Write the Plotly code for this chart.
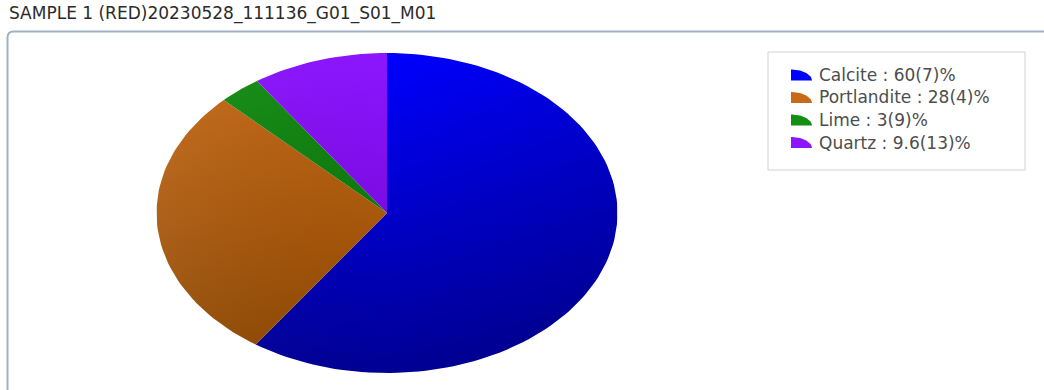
import numpy as np
import plotly.graph_objects as go

# ---- data ----
phases = ["Calcite", "Portlandite", "Lime", "Quartz"]
values = [60, 28, 3, 9.6]
uncert = ["7", "4", "9", "13"]
colors_top = ["#0000ff", "#c86a18", "#139013", "#8c16ff"]
colors_bottom = ["#000094", "#8a4600", "#0a600a", "#6a00c8"]
title_text = "SAMPLE 1 (RED)20230528_111136_G01_S01_M01"

W, H = 1044, 390
FONT = "DejaVu Sans"

fig = go.Figure()

# ---- pie drawn on a stretched cartesian frame (ellipse) ----
total = float(sum(values))
start = 0.0
for name, v, ct, cb in zip(phases, values, colors_top, colors_bottom):
    a0 = start / total * 2 * np.pi
    a1 = (start + v) / total * 2 * np.pi
    t = np.linspace(a0, a1, max(3, int(200 * v / total) + 3))
    xs = np.concatenate([[0.0], np.sin(t), [0.0]])
    ys = np.concatenate([[0.0], np.cos(t), [0.0]])
    fig.add_trace(go.Scatter(
        x=xs, y=ys, mode="lines", fill="toself",
        line=dict(width=0, color=ct),
        fillgradient=dict(type="vertical", start=-1, stop=1,
                          colorscale=[[0, cb], [1, ct]]),
        hoverinfo="text", text=f"{name}", name=name,
        xaxis="x", yaxis="y", showlegend=False,
    ))
    start += v

# subtle diagonal shading: horizontal darkening overlay
tt = np.linspace(0, 2 * np.pi, 300)
fig.add_trace(go.Scatter(
    x=np.sin(tt), y=np.cos(tt), mode="lines", fill="toself",
    line=dict(width=0, color="rgba(0,0,0,0)"),
    fillgradient=dict(type="horizontal", start=-1, stop=1,
                      colorscale=[[0, "rgba(255,255,255,0.06)"], [0.5, "rgba(0,0,0,0)"], [1, "rgba(0,0,0,0.12)"]]),
    hoverinfo="skip", xaxis="x", yaxis="y", showlegend=False,
))

# ---- custom legend (quarter-wedge icons) ----
LX0, LX1, LY0, LY1 = 768, 1025, 52, 170
row_y = [75, 97.5, 120, 142.5]
icon_x, icon_rx, icon_ry = 791, 21, 11
q = np.linspace(0, np.pi / 2, 30)
for i, (name, v, err, ct) in enumerate(zip(phases, values, uncert, colors_top)):
    yb = row_y[i] + icon_ry / 2
    xs = np.concatenate([[icon_x], icon_x + icon_rx * np.sin(q), [icon_x]])
    ys = np.concatenate([[yb], yb - icon_ry * np.cos(q), [yb]])
    fig.add_trace(go.Scatter(
        x=xs, y=ys, mode="lines", fill="toself", fillcolor=ct,
        line=dict(width=0, color=ct), hoverinfo="skip",
        xaxis="x2", yaxis="y2", showlegend=False,
    ))
    fig.add_annotation(
        x=817, y=row_y[i], xref="x2", yref="y2", text=f"{name} : {v:g}({err})%",
        showarrow=False, xanchor="left", yanchor="middle",
        font=dict(family=FONT, size=17, color="#4d4d4d"),
    )

fig.add_shape(type="rect", xref="paper", yref="paper",
              x0=LX0 / W, x1=LX1 / W, y0=1 - LY1 / H, y1=1 - LY0 / H,
              line=dict(color="#d2d2d2", width=1), fillcolor="rgba(0,0,0,0)", layer="below")

# ---- outer panel border with rounded corner ----
def px(x):
    return x / W

def py(y):
    return 1 - y / H

bx, by, r = 7.5, 31.5, 6
path = (f"M {px(bx)} {py(H + 20)} L {px(bx)} {py(by + r)} "
        f"Q {px(bx)} {py(by)} {px(bx + r)} {py(by)} L {px(W + 20)} {py(by)}")
fig.add_shape(type="path", xref="paper", yref="paper", path=path,
              line=dict(color="#9fb0c6", width=2), layer="below")

# ---- title ----
fig.add_annotation(
    x=7 / W, y=1 - 14 / H, xref="paper", yref="paper", text=title_text,
    showarrow=False, xanchor="left", yanchor="middle",
    font=dict(family=FONT, size=17, color="#2b2b2b"),
)

fig.update_layout(
    width=W, height=H,
    margin=dict(l=0, r=0, t=0, b=0),
    paper_bgcolor="white", plot_bgcolor="rgba(0,0,0,0)",
    showlegend=False,
    xaxis=dict(domain=[156.5 / W, 617.5 / W], range=[-1, 1], visible=False, fixedrange=True),
    yaxis=dict(domain=[1 - 373 / H, 1 - 53 / H], range=[-1, 1], visible=False, fixedrange=True),
    xaxis2=dict(domain=[LX0 / W, LX1 / W], range=[LX0, LX1], visible=False, fixedrange=True, anchor="y2"),
    yaxis2=dict(domain=[1 - LY1 / H, 1 - LY0 / H], range=[LY1, LY0], visible=False, fixedrange=True, anchor="x2"),
)

fig.write_html("out.html", config={"displayModeBar": False},
               post_script="document.body.style.margin='0px';document.body.style.overflow='hidden';")
